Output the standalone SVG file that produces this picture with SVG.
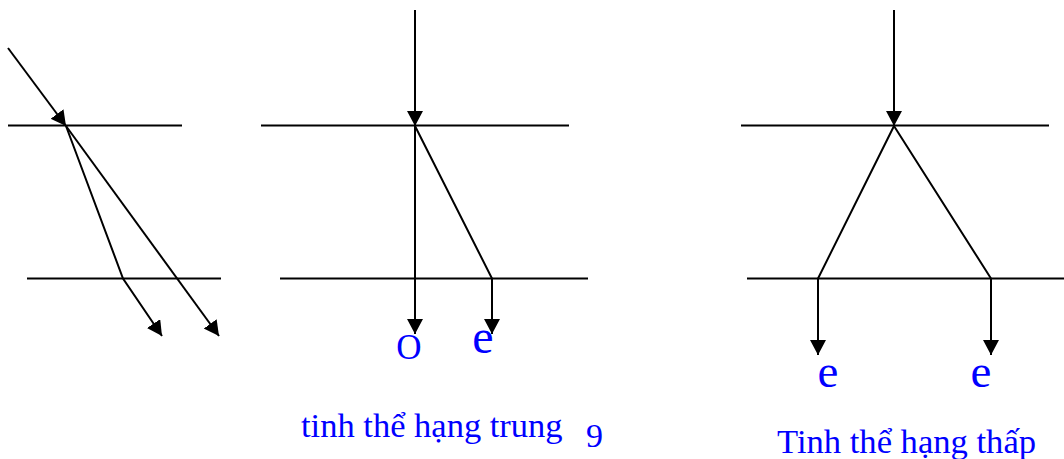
<svg xmlns="http://www.w3.org/2000/svg" width="1064" height="459" viewBox="0 0 1064 459">
  <style>
    .ln { stroke: #000; stroke-width: 2; fill: none; }
    .ar { stroke: #000; stroke-width: 2; fill: none; marker-end: url(#ah); }
    .lbl { font-family: "Liberation Serif", "Times New Roman", serif; fill: #0000FF; }
  </style>
  <defs>
    <marker id="ah" markerUnits="userSpaceOnUse" markerWidth="16" markerHeight="17" refX="15" refY="8" orient="auto" viewBox="0 0 16 17">
      <path d="M0,0 L15,8 L0,16 z" fill="#000"/>
    </marker>
  </defs>
  <rect width="1064" height="459" fill="#fff"/>

  <g id="crystal-left">
    <line class="ln" x1="8" y1="125.5" x2="182" y2="125.5"/>
    <line class="ln" x1="27" y1="278.5" x2="221" y2="278.5"/>
  </g>
  <g id="crystal-middle">
    <line class="ln" x1="261" y1="125.5" x2="569" y2="125.5"/>
    <line class="ln" x1="280" y1="278.5" x2="588" y2="278.5"/>
  </g>
  <g id="crystal-right">
    <line class="ln" x1="741" y1="125.5" x2="1049" y2="125.5"/>
    <line class="ln" x1="747" y1="278.5" x2="1064" y2="278.5"/>
  </g>

  <g id="connectors">
    <!-- left -->
    <line class="ar" x1="8" y1="48" x2="66" y2="126"/>
    <polyline class="ar" points="66,126 123,278.5 162,336"/>
    <line class="ar" x1="66" y1="126" x2="219" y2="336"/>
    <!-- middle -->
    <line class="ar" x1="415" y1="10" x2="415" y2="126"/>
    <line class="ar" x1="415" y1="126" x2="415" y2="334"/>
    <polyline class="ar" points="415,126 492,278.5 492,334"/>
    <!-- right -->
    <line class="ar" x1="894" y1="10" x2="894" y2="126"/>
    <polyline class="ar" points="894,126 818,278.5 818,355"/>
    <polyline class="ar" points="894,126 991,278.5 991,355"/>
  </g>

  <g id="labels">
    <text class="lbl" x="409" y="359" font-size="35" text-anchor="middle">O</text>
    <text class="lbl" x="483" y="353" font-size="48" text-anchor="middle">e</text>
    <text class="lbl" x="828" y="387" font-size="47" text-anchor="middle">e</text>
    <text class="lbl" x="981" y="387" font-size="47" text-anchor="middle">e</text>
    <text class="lbl" x="301" y="437" font-size="34.5">tinh thể hạng trung</text>
    <text class="lbl" x="586" y="447" font-size="34">9</text>
    <text class="lbl" x="777" y="453" font-size="34.6">Tinh thể hạng thấp</text>
  </g>
</svg>
